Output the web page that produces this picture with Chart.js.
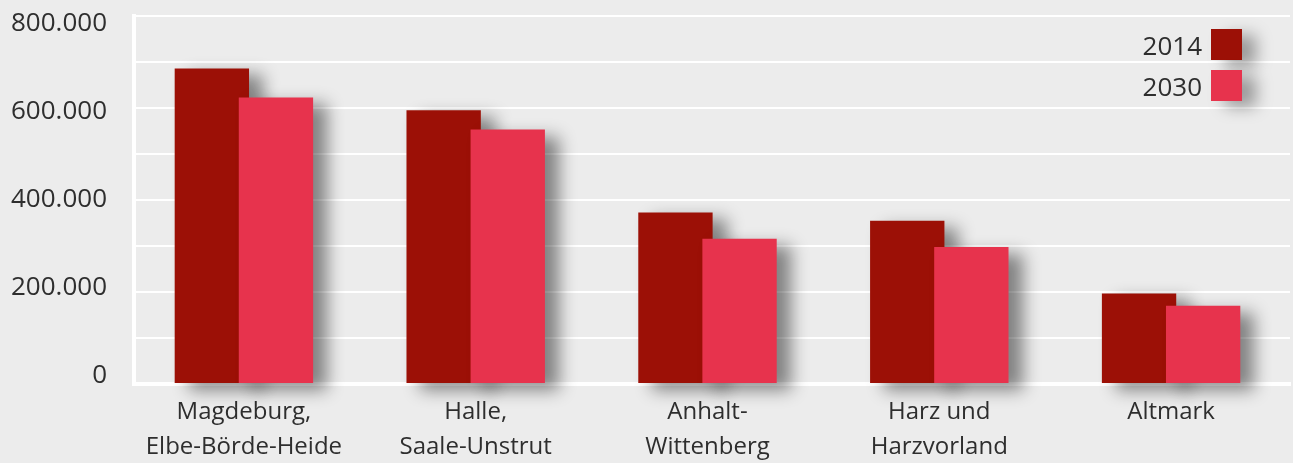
<!DOCTYPE html>
<html lang="de">
<head>
<meta charset="utf-8">
<title>Bevölkerung nach Planungsregionen 2014 und 2030</title>
<script src="https://cdn.jsdelivr.net/npm/chart.js@4/dist/chart.umd.min.js"></script>
<style>
    html, body { margin: 0; padding: 0; background: #ececec; }
    #wrap { position: relative; width: 1293px; height: 463px; }
    #legend { position: absolute; right: 51px; top: 29px; font: 26px "Open Sans", sans-serif; color: #2e2e2e; }
    .item { display: flex; align-items: center; justify-content: flex-end; height: 31px; margin-bottom: 10px; }
    .item span.box { width: 31px; height: 31px; margin-left: 9px; box-shadow: 14px 6px 16px rgba(0, 0, 0, 0.35); }
</style>
</head>
<body>
<div id="wrap">
    <canvas id="chart"></canvas>
    <div id="legend"></div>
</div>
<script>
// Regions (Planungsregionen) and population values
const regions = [
    ['Magdeburg,', 'Elbe-Börde-Heide'],
    ['Halle,', 'Saale-Unstrut'],
    ['Anhalt-', 'Wittenberg'],
    ['Harz und', 'Harzvorland'],
    'Altmark'
];
const seriesNames = ['2014', '2030'];
const values2014 = [686000, 595000, 373000, 355000, 197000];
const values2030 = [623000, 553000, 316000, 298000, 170000];
const yTicks = [0, 200000, 400000, 600000, 800000];

const colors = ['#9c1006', '#e7334d'];
const textColor = '#2e2e2e';
const fontFamily = '"Open Sans", sans-serif';

const formatNumber = v => String(v).replace(/\B(?=(\d{3})+(?!\d))/g, '.');

// draw datasets in index order (2030 on top) with a soft drop shadow
const barShadow = {
    id: 'barShadow',
    beforeDatasetsDraw(chart) {
        const ctx = chart.ctx;
        const metas = chart.getSortedVisibleDatasetMetas().slice().sort((a, b) => a.index - b.index);
        metas.forEach(meta => {
            ctx.save();
            ctx.shadowColor = 'rgba(0, 0, 0, 0.45)';
            ctx.shadowBlur = 16;
            ctx.shadowOffsetX = 14;
            ctx.shadowOffsetY = 7;
            meta.controller.draw();
            ctx.restore();
        });
        return false;
    }
};

// the category band in the original sits a few px left of the plot frame;
// only the value->pixel mapping is moved, the axis line keeps the frame
const shiftCategories = {
    id: 'shiftCategories',
    afterLayout(chart) {
        const x = chart.scales.x;
        const left = x.left, right = x.right;
        x.left = left - 6;
        x.right = right - 3;
        x.width = x.right - x.left;
        x.configure();
        x.left = left;
        x.right = right;
        x.width = right - left;
    }
};

new Chart(document.getElementById('chart').getContext('2d'), {
    type: 'bar',
    data: {
        labels: regions,
        datasets: [{
            label: seriesNames[0],
            data: values2014,
            backgroundColor: colors[0],
            categoryPercentage: 0.553,
            barPercentage: 1.16
        }, {
            label: seriesNames[1],
            data: values2030,
            backgroundColor: colors[1],
            categoryPercentage: 0.553,
            barPercentage: 1.16
        }]
    },
    options: {
        responsive: true,
        maintainAspectRatio: false,
        animation: false,
        layout: {
            padding: { top: 16, right: 3, left: 0, bottom: 0 }
        },
        plugins: {
            legend: { display: false },
            tooltip: { enabled: false }
        },
        scales: {
            x: {
                grid: { display: false, drawTicks: false },
                border: { color: '#ffffff', width: 4 },
                ticks: {
                    color: textColor,
                    padding: 11,
                    maxRotation: 0,
                    autoSkip: false,
                    font: { family: fontFamily, size: 24, lineHeight: 1.45 }
                },
                afterFit: scale => { scale.height = 79; }
            },
            y: {
                position: 'left',
                weight: 0,
                min: 0,
                max: 800000,
                ticks: { display: false, stepSize: 100000 },
                grid: { color: '#ffffff', lineWidth: 2, drawTicks: false },
                border: { color: '#ffffff', width: 4 },
                afterFit: scale => {
                    scale.width = 0;
                    scale.paddingTop = 0;
                    scale.paddingBottom = 0;
                }
            },
            // label-only axis; its labels sit slightly inside the gridline range, as in the original
            yLabels: {
                position: 'left',
                weight: 1,
                min: -18182,
                max: 818182,
                grid: { display: false, drawTicks: false },
                border: { display: false },
                ticks: {
                    color: textColor,
                    padding: 27,
                    font: { family: fontFamily, size: 26 },
                    callback: v => formatNumber(v)
                },
                afterBuildTicks: scale => { scale.ticks = yTicks.map(v => ({ value: v })); },
                afterFit: scale => {
                    scale.width = 134;
                    scale.paddingTop = 0;
                    scale.paddingBottom = 0;
                }
            }
        }
    },
    plugins: [barShadow, shiftCategories]
});

// legend: text left of the colour box
const legend = document.getElementById('legend');
seriesNames.forEach((name, i) => {
    const item = document.createElement('div');
    item.className = 'item';
    item.innerHTML = '<span>' + name + '</span><span class="box" style="background:' + colors[i] + '"></span>';
    legend.appendChild(item);
});
</script>
</body>
</html>
